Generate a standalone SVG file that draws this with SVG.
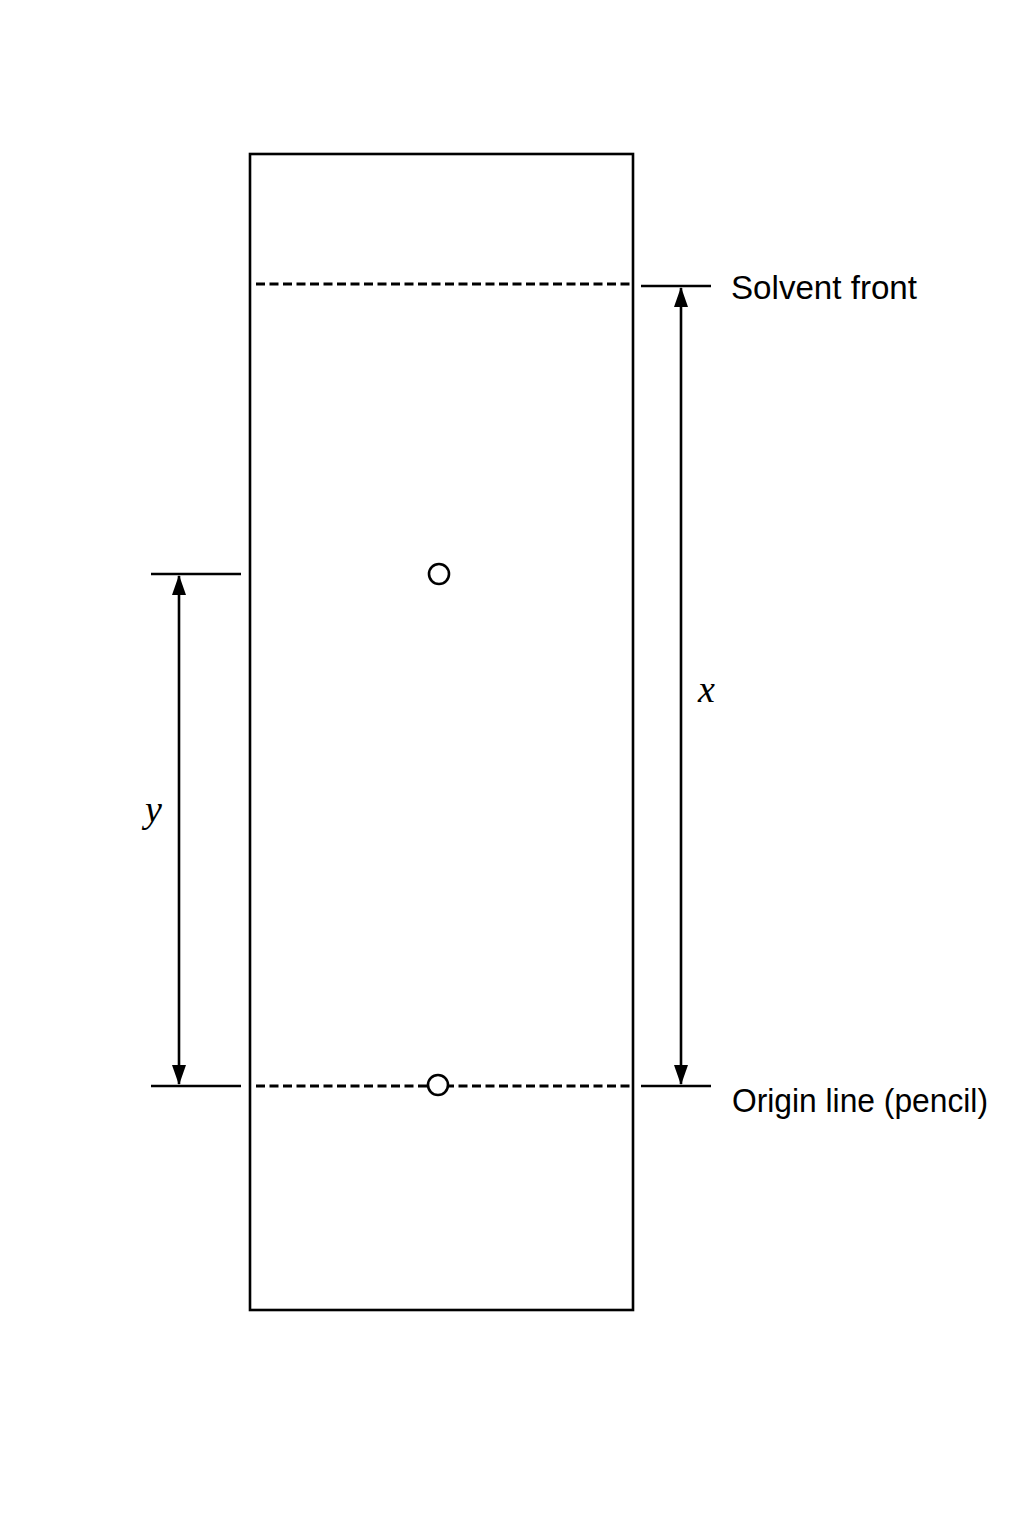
<svg xmlns="http://www.w3.org/2000/svg" width="1024" height="1536" viewBox="0 0 1024 1536">
<style>
.ln{stroke:#000;stroke-width:2.6;fill:none}
.dash{stroke:#000;stroke-width:2.8;fill:none;stroke-dasharray:9 4.5}
.lbl{font-family:"Liberation Sans",Arial,sans-serif;font-size:34px;fill:#000}
.var{font-family:"Liberation Serif","Times New Roman",serif;font-style:italic;font-size:38px;fill:#000}
</style>
<defs>
<marker id="ah" markerWidth="20" markerHeight="14" refX="19" refY="7" orient="auto-start-reverse" markerUnits="userSpaceOnUse">
<path d="M0,0 L20,7 L0,14 Z" fill="#000"/>
</marker>
</defs>
<rect width="1024" height="1536" fill="#fff"/>
<g id="plate">
<rect x="250" y="154" width="383" height="1156" class="ln"/>
</g>
<g id="solvent-front">
<line x1="256" y1="284" x2="632" y2="284" class="dash"/>
</g>
<g id="origin-line">
<line x1="256" y1="1086" x2="632" y2="1086" class="dash"/>
</g>
<g id="spot-top">
<circle cx="439" cy="574" r="10" fill="#fff" stroke="#000" stroke-width="2.6"/>
</g>
<g id="spot-origin">
<circle cx="438" cy="1085" r="10" fill="#fff" stroke="#000" stroke-width="2.6"/>
</g>
<g id="connectors">
<line x1="641" y1="286" x2="711" y2="286" class="ln"/>
<line x1="641" y1="1086" x2="711" y2="1086" class="ln"/>
<line x1="151" y1="574" x2="241" y2="574" class="ln"/>
<line x1="151" y1="1086" x2="241" y2="1086" class="ln"/>
<line x1="681" y1="288" x2="681" y2="1084" class="ln" marker-start="url(#ah)" marker-end="url(#ah)"/>
<line x1="179" y1="576" x2="179" y2="1084" class="ln" marker-start="url(#ah)" marker-end="url(#ah)"/>
</g>
<g id="labels">
<text x="731" y="299" class="lbl" textLength="186" lengthAdjust="spacingAndGlyphs">Solvent front</text>
<text x="732" y="1112" class="lbl" textLength="256" lengthAdjust="spacingAndGlyphs">Origin line (pencil)</text>
<text x="698" y="702" class="var">x</text>
<text x="145" y="822" class="var">y</text>
</g>
</svg>
